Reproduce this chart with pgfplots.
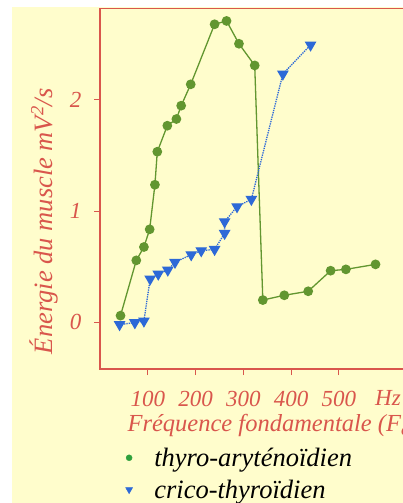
\documentclass[border=0pt]{standalone}
\usepackage{fontspec}
\setmainfont{Liberation Serif}
\usepackage{pgfplots}
\pgfplotsset{compat=1.18}

\definecolor{fond}{HTML}{FFFDCC}
\definecolor{rouge}{HTML}{D9564C}
\definecolor{vert}{HTML}{629630}
\definecolor{vertleg}{HTML}{2EA03C}
\definecolor{bleu}{HTML}{2D69D7}

% thyro-aryténoïdien
\pgfplotstableread{
f e
43 0.06
76 0.557
92 0.677
104 0.836
115 1.237
120 1.534
141 1.768
160 1.828
170 1.948
190 2.14
240 2.68
265 2.71
291 2.505
324 2.31
341 0.20
386 0.243
436 0.279
483 0.464
515 0.476
577 0.521
}\ta

% crico-thyroïdien
\pgfplotstableread{
f e
41 -0.02
73 -0.003
92 0.012
105 0.39
122 0.434
142 0.47
157 0.54
191 0.608
212 0.644
240 0.656
261 0.80
261 0.905
287 1.04
317 1.106
383 2.233
441 2.494
}\ct

\begin{document}
\begin{tikzpicture}[x=1pt,y=1pt]
\fill[fond] (12,-7) rectangle (403,-503);
\begin{axis}[
    at={(100pt,-369pt)}, anchor=south west,
    x=0.4775pt, y=111.2pt,
    xmin=0, xmax=700, ymin=-0.42, ymax=2.822,
    enlargelimits=false,
    axis line style={rouge, line width=1.2pt},
    xtick={100,200,300,400,500},
    ytick={0,1,2},
    xtick pos=left, ytick pos=left,
    tick align=outside,
    major tick length=6pt,
    tick style={rouge, line width=1pt},
    /pgf/number format/assume math mode=true,
    tick label style={font=\fontsize{23}{27}\selectfont\itshape, text=rouge},
    xticklabel style={yshift=-13pt},
    yticklabel style={xshift=-9pt},
    xlabel={Fréquence fondamentale (F\textsubscript{o})},
    xlabel style={at={(axis description cs:0.072,-0.158)}, anchor=west,
        font=\fontsize{24.5}{28}\selectfont\itshape, text=rouge},
    ylabel={Énergie du muscle mV\textsuperscript{2}/s},
    ylabel style={at={(axis description cs:-0.168,0.41)}, anchor=center,
        font=\fontsize{26.5}{30}\selectfont\itshape, text=rouge},
    legend style={at={(axis description cs:0.059,-0.207)}, anchor=north west,
        draw=none, fill=none, font=\fontsize{26.5}{30}\selectfont\itshape,
        row sep=8pt},
    legend cell align=left,
    legend image code/.code={%
        \path (0pt,0pt) (29pt,0pt);
        \draw[#1] plot coordinates {(6pt,0pt)};},
    clip=false,
]
\addplot[vert, line width=1.3pt, mark=*, mark size=4.2pt, forget plot]
    table[x=f, y=e] {\ta};
\addplot[bleu, densely dotted, line width=1.3pt, mark=triangle*,
    mark size=5.5pt, mark options={solid, rotate=180}, forget plot]
    table[x=f, y=e] {\ct};
\addlegendimage{only marks, mark=*, color=vertleg, mark size=3pt}
\addlegendentry{thyro-aryténoïdien}
\addlegendimage{only marks, mark=triangle*, color=bleu, mark size=4pt,
    mark options={rotate=180}}
\addlegendentry{crico-thyroïdien}
\node[font=\fontsize{23}{27}\selectfont\itshape, text=rouge, anchor=center]
    at (axis cs:603,-0.68) {Hz};
\end{axis}
\pgfresetboundingbox
\useasboundingbox (0,0) rectangle (403,-503);
\end{tikzpicture}
\end{document}
